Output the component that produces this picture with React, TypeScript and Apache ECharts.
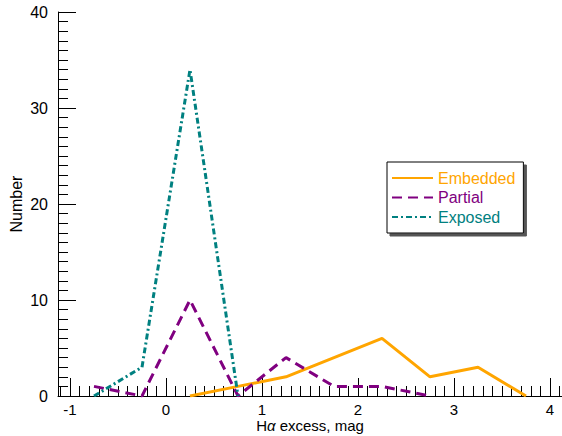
import React, { useEffect, useRef } from "react";
import * as echarts from "echarts";

const binCenters = [-0.75, -0.25, 0.25, 0.75, 1.25, 1.75, 2.25, 2.75, 3.25, 3.75];
const embedded = [null, null, 0, 1, 2, 4, 6, 2, 3, 0];
const partial = [1, 0, 10, 0, 4, 1, 1, 0, null, null];
const exposed = [0, 3, 34, 0, null, null, null, null, null, null];
const seriesNames = ["Embedded", "Partial", "Exposed"];
const seriesColors = ["#FFA500", "#800080", "#008080"];
const xTickLabels = [-1, 0, 1, 2, 3, 4];
const yTickLabels = [0, 10, 20, 30, 40];

const FONT = "'Liberation Sans', Arial, Helvetica, sans-serif";

function pairs(ys: (number | null)[]) {
  const out: [number, number][] = [];
  ys.forEach((y, i) => {
    if (y !== null) out.push([binCenters[i], y]);
  });
  return out;
}

const minorXTicks: number[] = [];
for (let k = -11; k <= 41; k++) minorXTicks.push(Math.round(k) / 10);

export default function App() {
  const ref = useRef<HTMLDivElement>(null);
  useEffect(() => {
    if (!ref.current) return;
    const chart = echarts.init(ref.current, undefined, { renderer: "svg" });
    const xMin = -1.125;
    const xMax = 4.125;
    const option: any = {
      animation: false,
      textStyle: { fontFamily: FONT },
      grid: { left: 58, right: 0, top: 12, bottom: 40, containLabel: false, outerBoundsMode: "none" },
      xAxis: [
        {
          type: "value",
          min: xMin,
          max: xMax,
          position: "bottom",
          axisLine: { show: true, onZero: false, lineStyle: { color: "#000", width: 1 } },
          axisTick: {
            show: true,
            inside: true,
            length: 18,
            lineStyle: { color: "#000" },
            customValues: xTickLabels,
          },
          axisLabel: {
            show: true,
            margin: 6,
            fontSize: 15,
            lineHeight: 14,
            color: "#000",
            fontFamily: FONT,
            customValues: xTickLabels,
            formatter: (v: number) => String(Math.round(v)),
          },
          splitLine: { show: false },
          name: "{r|H}{i|α}{r| excess, mag}",
          nameLocation: "middle",
          nameGap: 22,
          nameMoveOverlap: false,
          nameTextStyle: {
            fontSize: 15,
            lineHeight: 14,
            color: "#000",
            fontFamily: FONT,
            rich: {
              r: { fontSize: 15, lineHeight: 14, color: "#000", fontFamily: FONT },
              i: { fontSize: 15, lineHeight: 14, color: "#000", fontFamily: FONT, fontStyle: "italic" },
            },
          },
        },
        {
          type: "value",
          min: xMin,
          max: xMax,
          position: "bottom",
          axisLine: { show: false, onZero: false },
          axisTick: {
            show: true,
            inside: true,
            length: 10,
            lineStyle: { color: "#000" },
            customValues: minorXTicks,
          },
          axisLabel: { show: false },
          splitLine: { show: false },
        },
      ],
      yAxis: [
        {
          type: "value",
          min: 0,
          max: 40,
          interval: 10,
          position: "left",
          axisLine: { show: true, onZero: false, lineStyle: { color: "#000", width: 1 } },
          axisTick: { show: true, inside: true, length: 18, lineStyle: { color: "#000" } },
          axisLabel: {
            show: true,
            margin: 10,
            fontSize: 16,
            color: "#000",
            fontFamily: FONT,
            formatter: (v: number) => (yTickLabels.includes(v) ? String(v) : ""),
          },
          splitLine: { show: false },
          name: "Number",
          nameLocation: "middle",
          nameGap: 34,
          nameMoveOverlap: false,
          nameTextStyle: { fontSize: 16, color: "#000", fontFamily: FONT },
        },
        {
          type: "value",
          min: 0,
          max: 40,
          interval: 1,
          position: "left",
          axisLine: { show: false, onZero: false },
          axisTick: { show: true, inside: true, length: 10, lineStyle: { color: "#000" } },
          axisLabel: { show: false },
          splitLine: { show: false },
        },
      ],
      legend: {
        orient: "vertical",
        left: 387,
        top: 162,
        padding: [8, 8, 8, 4],
        itemWidth: 41,
        itemHeight: 16,
        itemGap: 3.5,
        backgroundColor: "#fff",
        borderColor: "#000",
        borderWidth: 1,
        borderRadius: 0,
        shadowColor: "#555",
        shadowBlur: 0,
        shadowOffsetX: 3,
        shadowOffsetY: 3,
        itemStyle: { opacity: 0 },
        textStyle: { fontSize: 16, fontFamily: FONT },
        data: seriesNames.map((n, i) => ({
          name: n,
          textStyle: { color: seriesColors[i], fontSize: 16, fontFamily: FONT },
        })),
      },
      series: [
        {
          name: seriesNames[0],
          type: "line",
          xAxisIndex: 0,
          yAxisIndex: 0,
          data: pairs(embedded),
          showSymbol: false,
          symbol: "none",
          color: seriesColors[0],
          lineStyle: { color: seriesColors[0], width: 3, type: "solid" },
        },
        {
          name: seriesNames[1],
          type: "line",
          xAxisIndex: 0,
          yAxisIndex: 0,
          data: pairs(partial),
          showSymbol: false,
          symbol: "none",
          color: seriesColors[1],
          lineStyle: { color: seriesColors[1], width: 3, type: [10, 6] },
        },
        {
          name: seriesNames[2],
          type: "line",
          xAxisIndex: 0,
          yAxisIndex: 0,
          data: pairs(exposed),
          showSymbol: false,
          symbol: "none",
          color: seriesColors[2],
          lineStyle: { color: seriesColors[2], width: 3, type: [6, 3, 2, 3] },
        },
      ],
    };
    chart.setOption(option);
    return () => chart.dispose();
  }, []);
  return (
    <div
      ref={ref}
      style={{ position: "absolute", left: 0, top: 0, width: 562, height: 436, background: "#fff" }}
    />
  );
}
